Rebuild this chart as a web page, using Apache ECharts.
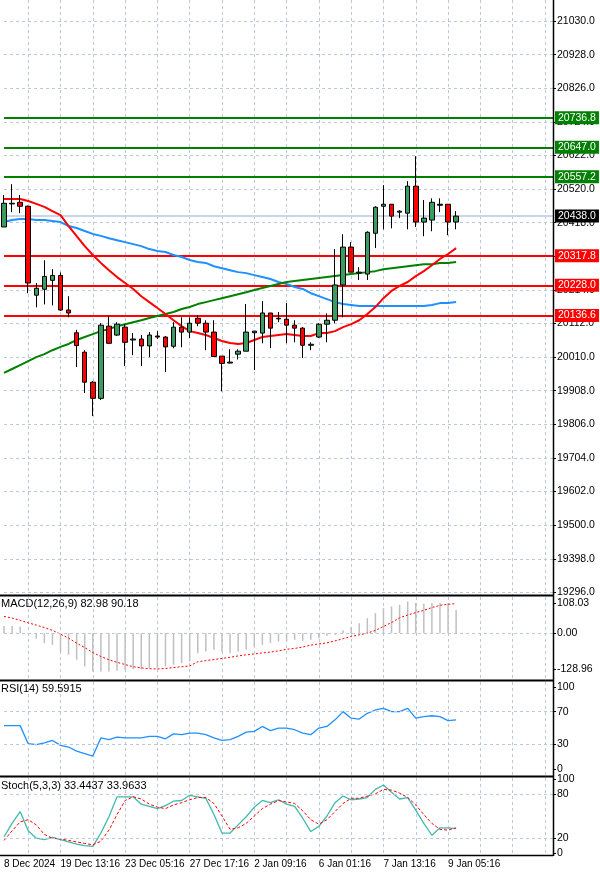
<!DOCTYPE html>
<html><head><meta charset="utf-8">
<script src="https://cdn.jsdelivr.net/npm/echarts@6/dist/echarts.min.js"></script>
<style>html,body{margin:0;padding:0;background:#fff}#c{width:600px;height:874px}</style>
</head><body><div id="c"></div>
<script>
// ---- data ----
const opens  = [20405,20475,20480,20468,20198,20216,20243,20258,20153,20084,20025,19934,19885,20104,20077,20101,20062,20065,20044,20074,20071,20043,20101,20086,20128,20113,20086,20013,19992,20019,20028,20084,20083,20144,20126,20125,20107,20098,20046,20071,20110,20122,20229,20344,20265,20262,20386,20468,20474,20450,20447,20529,20420,20426,20474,20474,20420];
const closes = [20477,20477,20468,20235,20219,20255,20258,20153,20144,20045,19934,19885,20107,20052,20110,20055,20065,20044,20077,20071,20041,20101,20086,20113,20113,20086,20012,19991,19995,20028,20086,20089,20144,20098,20128,20107,20098,20046,20049,20110,20122,20229,20344,20268,20268,20389,20465,20474,20438,20453,20529,20420,20432,20480,20471,20420,20438];
const lows   = [20405,20450,20447,20204,20161,20170,20167,20150,20131,19980,19901,19831,19880,20050,20074,19983,20016,19983,20010,20065,19965,20037,20040,20068,20104,20031,20012,19906,19991,20003,20028,19971,20052,20037,20116,20052,20055,20007,20031,20068,20055,20113,20131,20268,20244,20244,20341,20398,20401,20432,20398,20405,20377,20392,20450,20380,20398];
const highs  = [20502,20535,20502,20470,20235,20304,20277,20267,20195,20093,20031,19937,20113,20134,20116,20110,20083,20077,20086,20089,20074,20116,20131,20131,20137,20122,20122,20013,20034,20034,20171,20089,20180,20144,20147,20174,20122,20101,20055,20113,20143,20338,20383,20359,20283,20392,20468,20532,20474,20456,20544,20620,20487,20492,20492,20474,20453];
const maRed  = [20490,20490,20490,20484,20475,20466,20453,20441,20408,20377,20347,20320,20296,20274,20253,20235,20217,20195,20177,20159,20141,20122,20104,20089,20083,20077,20068,20059,20053,20050,20053,20062,20071,20074,20077,20080,20077,20074,20074,20083,20083,20089,20101,20110,20122,20141,20162,20189,20211,20226,20238,20256,20271,20289,20308,20323,20341];
const maBlue = [20420,20426,20429,20429,20426,20426,20423,20420,20408,20402,20393,20384,20378,20371,20365,20359,20353,20347,20338,20332,20329,20320,20314,20305,20299,20296,20286,20280,20274,20268,20265,20259,20253,20247,20238,20232,20223,20217,20204,20195,20186,20177,20171,20168,20165,20165,20165,20165,20165,20165,20165,20165,20165,20168,20174,20174,20177];
const maGreen= [19962,19974,19986,19998,20010,20019,20031,20041,20050,20062,20071,20080,20089,20095,20104,20110,20116,20122,20129,20135,20141,20147,20156,20162,20171,20177,20183,20189,20195,20201,20207,20214,20220,20226,20232,20238,20241,20244,20247,20250,20253,20256,20259,20262,20265,20268,20271,20277,20280,20283,20286,20289,20292,20292,20296,20296,20299];
const macdHist = [26,26,24,-2,-20,-36,-42,-66,-78,-96,-120,-138,-138,-138,-135,-132,-130,-130,-126,-126,-120,-114,-108,-102,-72,-66,-60,-66,-72,-66,-60,-48,-42,-36,-30,-30,-24,-28,-24,-18,-10,-6,10,22,36,54,72,90,96,102,114,108,106,108,108,108,83];
const macdSignal = [60,54,46,37,29,20,10,-4,-18,-36,-52,-70,-84,-96,-105,-113,-121,-125,-128,-129,-127,-124,-121,-118,-103,-99,-95,-91,-87,-82,-78,-75,-71,-68,-64,-58,-55,-50,-43,-39,-35,-28,-20,-12,-6,0,10,24,38,55,65,74,82,92,100,104,106];
const rsi = [53,53,53,31,30,32,35,29,27,22,19,16,38,36,39,38,38,38,40,40,37,43,42,44,44,42,38,35,36,40,45,46,52,47,50,50,48,44,42,50,52,60,70,62,61,68,72,74,70,70,74,62,64,65,64,59,60];
const stochMain = [22,40,56,30,20,18,21,18,15,12,10,9,27,49,76,76,76,66,63,60,64,70,71,78,76,74,52,27,27,38,49,62,71,68,72,66,63,47,29,36,50,68,77,72,73,75,86,92,82,73,75,58,40,24,34,34,33];
const stochSignal = [17,30,42,45,38,25,20,19,17,15,13,11,16,31,52,71,76,73,66,62,60,65,68,72,75,75,67,50,32,34,40,50,60,66,71,69,67,57,45,39,45,56,67,74,74,77,80,86,85,81,75,65,52,40,32,31,34];
const supportLevels = [20317.8, 20228.0, 20136.6];
const resistLevels = [20736.8, 20647.0, 20557.2];
const lastPrice = 20438.0;
const priceTicks = [19296,19398,19500,19602,19704,19806,19908,20010,20112,20214,20316,20418,20520,20622,20724,20826,20928,21030];
const macdTicks = [108.03, 0, -128.96];
const rsiTicks = [0,30,70,100];
const stochTicks = [0,20,80,100];
const tickLabels = ['8 Dec 2024','19 Dec 13:16','23 Dec 05:16','27 Dec 17:16','2 Jan 09:16','6 Jan 01:16','7 Jan 13:16','9 Jan 05:16'];
const tickIndex = [0,7,15,23,31,39,47,55];
const totalSlots = 69;

// ---- build ----
const cats = [];
for (let i = 0; i < totalSlots; i++) { const k = tickIndex.indexOf(i); cats.push(k >= 0 ? tickLabels[k] : ''); }
const candles = opens.map((o,i)=>[o, closes[i], lows[i], highs[i]]);
const FONT = 'Liberation Sans';
const gridCol = '#b9c8dd';
const grids = [
  {left:4, right:47, top:0, height:595},
  {left:4, right:47, top:597, height:82},
  {left:4, right:47, top:682, height:93},
  {left:4, right:47, top:778, height:77}
];
function xAx(idx, showLabels){
  return {type:'category', gridIndex:idx, data:cats, boundaryGap:false,
    axisLine:{show:false}, axisTick:{show:false},
    axisLabel:{show:showLabels, interval:0, formatter:v=>v, align:'left', margin:4, fontFamily:FONT, fontSize:10, color:'#000'},
    splitLine:{show:true, interval:(i)=>i%4===3, lineStyle:{color:gridCol, type:[3,3], width:1}}};
}
function yAx(idx, min, max, ticks, fmt){
  return {type:'value', gridIndex:idx, position:'right', min:min, max:max, scale:true,
    axisLine:{show:false},
    axisTick:{show:true, customValues:ticks, length:3, lineStyle:{color:'#000'}},
    axisLabel:{customValues:ticks, formatter:fmt, fontFamily:FONT, fontSize:10.5, color:'#000', margin:4},
    splitLine:{show:false}};
}
function hLines(vals){
  return {silent:true, symbol:'none', label:{show:false}, animation:false,
    lineStyle:{color:gridCol, type:[3,3], width:1}, data:vals.map(v=>({yAxis:v}))};
}
function lvl(v, col){
  return {yAxis:v, lineStyle:{color:col, width:2, type:'solid'},
    label:{show:true, position:'end', formatter:v.toFixed(1), color:'#fff', backgroundColor:col,
      padding:[1,3,1,3], fontFamily:FONT, fontSize:10.5, distance:2}};
}
const levelData = [
  ...resistLevels.map(v=>lvl(v,'#008000')),
  ...supportLevels.map(v=>lvl(v,'#ff0000')),
  {yAxis:lastPrice, lineStyle:{color:'#c9d6ea', width:2, type:'solid'},
   label:{show:true, position:'end', formatter:lastPrice.toFixed(1), color:'#fff', backgroundColor:'#000',
     padding:[1,3,1,3], fontFamily:FONT, fontSize:10.5, distance:2}}
];
const option = {
  animation:false,
  backgroundColor:'#fff',
  grid:grids,
  xAxis:[xAx(0,false), xAx(1,false), xAx(2,false), xAx(3,true)],
  yAxis:[
    yAx(0, 19288, 21094, priceTicks, v=>v.toFixed(1)),
    yAx(1, -165, 130, macdTicks, v=>v.toFixed(2)),
    yAx(2, -7, 106, rsiTicks, v=>String(v)),
    yAx(3, -2.7, 101.4, stochTicks, v=>String(v))
  ],
  series:[
    {type:'line', xAxisIndex:0, yAxisIndex:0, data:[], z:0, markLine:Object.assign(hLines(priceTicks), {z:0})},
    {type:'line', xAxisIndex:0, yAxisIndex:0, data:[], z:5, markLine:{silent:true, symbol:'none', data:levelData, z:5}},
    {type:'line', xAxisIndex:0, yAxisIndex:0, data:maBlue, symbol:'none', lineStyle:{color:'#1e90ff', width:2}, z:6},
    {type:'line', xAxisIndex:0, yAxisIndex:0, data:maGreen, symbol:'none', lineStyle:{color:'#008000', width:2}, z:6},
    {type:'line', xAxisIndex:0, yAxisIndex:0, data:maRed, symbol:'none', lineStyle:{color:'#ff0000', width:2}, z:6},
    {type:'candlestick', xAxisIndex:0, yAxisIndex:0, data:candles, barWidth:5, clip:false, z:7,
      itemStyle:{color:'#3b9b60', color0:'#ff0000', borderColor:'#000', borderColor0:'#000', borderWidth:1}},
    {type:'bar', xAxisIndex:1, yAxisIndex:1, data:macdHist, barWidth:1.5, itemStyle:{color:'#c0c0c0'},
      markLine:hLines([0])},
    {type:'line', xAxisIndex:1, yAxisIndex:1, data:macdSignal, symbol:'none', lineStyle:{color:'#ff0000', width:1, type:[2,2]}},
    {type:'line', xAxisIndex:2, yAxisIndex:2, data:rsi, symbol:'none', lineStyle:{color:'#1e90ff', width:1.3},
      markLine:hLines([30,70])},
    {type:'line', xAxisIndex:3, yAxisIndex:3, data:stochMain, symbol:'none', lineStyle:{color:'#40b8b0', width:1.3},
      markLine:hLines([20,80])},
    {type:'line', xAxisIndex:3, yAxisIndex:3, data:stochSignal, symbol:'none', lineStyle:{color:'#ff0000', width:1, type:[3,2]}}
  ],
  graphic:[
    {type:'line', shape:{x1:0,y1:595.5,x2:553,y2:595.5}, style:{stroke:'#000', lineWidth:2}, z:100},
    {type:'line', shape:{x1:0,y1:680.5,x2:553,y2:680.5}, style:{stroke:'#000', lineWidth:2}, z:100},
    {type:'line', shape:{x1:0,y1:776.5,x2:553,y2:776.5}, style:{stroke:'#000', lineWidth:2}, z:100},
    {type:'line', shape:{x1:0,y1:855.5,x2:553,y2:855.5}, style:{stroke:'#000', lineWidth:1.5}, z:100},
    {type:'line', shape:{x1:553.5,y1:0,x2:553.5,y2:856}, style:{stroke:'#000', lineWidth:1.5}, z:100},
    {type:'text', left:1, top:598, style:{text:'MACD(12,26,9) 82.98 90.18', font:'11px '+FONT, fill:'#000'}},
    {type:'text', left:1, top:683, style:{text:'RSI(14) 59.5915', font:'11px '+FONT, fill:'#000'}},
    {type:'text', left:1, top:780, style:{text:'Stoch(5,3,3) 33.4437 33.9633', font:'11px '+FONT, fill:'#000'}}
  ]
};
const chart = echarts.init(document.getElementById('c'), null, {renderer:'canvas'});
chart.setOption(option);
</script></body></html>
